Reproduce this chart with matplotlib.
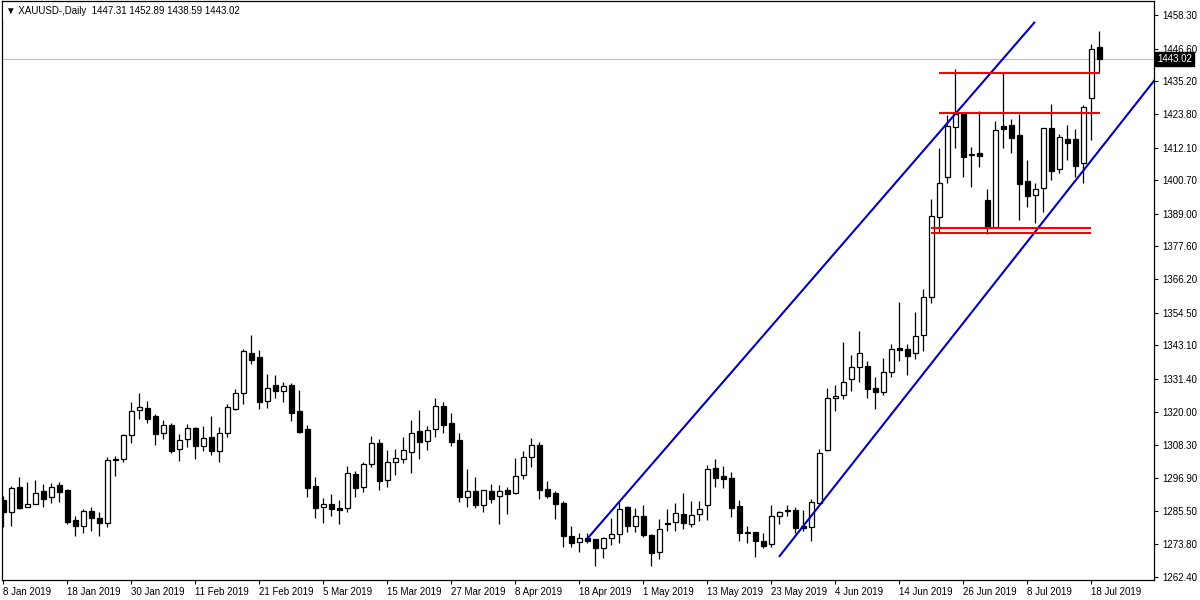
import matplotlib
matplotlib.use("Agg")
import matplotlib.pyplot as plt
import matplotlib.transforms as mtransforms
import numpy as np

plt.rcParams['font.family'] = ['Liberation Sans', 'DejaVu Sans']

# ---- data (daily XAUUSD candles, 8 Jan 2019 .. 19 Jul 2019) ----
opens = [1289.2, 1285.2, 1293.8, 1286.9, 1287.7, 1292.3, 1290.2, 1294.5, 1292.6, 1282.3,
         1280.1, 1285.3, 1283.0, 1281.1, 1303.5, 1303.4, 1311.8, 1320.5, 1321.2, 1318.4,
         1312.5, 1315.3, 1306.9, 1310.4, 1314.2, 1308.2, 1311.1, 1306.2, 1312.5, 1321.1,
         1326.4, 1340.4, 1339.0, 1323.9, 1329.2, 1327.3, 1329.3, 1320.3, 1313.9, 1294.1,
         1286.9, 1287.7, 1286.4, 1286.3, 1298.3, 1293.9, 1301.8, 1309.2, 1296.2, 1302.4,
         1303.6, 1305.9, 1313.2, 1309.7, 1313.9, 1321.9, 1316.0, 1310.0, 1290.4, 1292.3,
         1287.4, 1292.3, 1290.5, 1292.6, 1291.8, 1297.8, 1304.1, 1308.3, 1293.0, 1291.6,
         1288.1, 1276.8, 1274.5, 1276.0, 1275.6, 1272.4, 1276.1, 1277.3, 1286.7, 1280.2,
         1283.6, 1276.9, 1271.0, 1281.3, 1281.6, 1284.3, 1280.9, 1284.4, 1287.4, 1300.4,
         1297.6, 1296.8, 1287.0, 1278.1, 1278.1, 1274.9, 1273.8, 1283.6, 1285.4, 1285.7,
         1280.3, 1279.9, 1288.3, 1306.7, 1324.9, 1325.7, 1331.3, 1335.5, 1336.0, 1328.2,
         1327.0, 1334.0, 1342.3, 1341.8, 1340.4, 1346.6, 1360.1, 1388.0, 1401.7, 1419.2,
         1424.2, 1409.5, 1410.1, 1393.7, 1384.5, 1419.6, 1419.9, 1416.4, 1400.5, 1395.5,
         1397.9, 1418.8, 1404.5, 1415.1, 1415.1, 1406.6, 1429.3, 1447.31]
highs = [1290.6, 1294.1, 1297.2, 1295.5, 1296.2, 1294.8, 1295.1, 1295.5, 1293.0, 1283.7,
         1286.0, 1286.7, 1285.0, 1304.2, 1304.6, 1312.1, 1323.4, 1326.5, 1323.7, 1319.1,
         1317.1, 1316.0, 1312.1, 1315.6, 1314.8, 1315.0, 1318.5, 1314.6, 1322.7, 1327.8,
         1341.8, 1346.8, 1341.5, 1333.1, 1332.8, 1330.4, 1329.9, 1327.6, 1315.4, 1297.2,
         1289.9, 1291.3, 1289.2, 1301.1, 1299.4, 1302.6, 1311.5, 1310.4, 1306.7, 1307.0,
         1311.1, 1317.1, 1320.6, 1315.0, 1324.7, 1323.4, 1319.5, 1312.6, 1300.0, 1297.2,
         1292.7, 1294.8, 1294.5, 1293.7, 1303.9, 1306.4, 1310.9, 1309.5, 1295.7, 1292.3,
         1288.8, 1280.2, 1277.8, 1277.8, 1275.8, 1276.4, 1283.0, 1288.5, 1287.1, 1286.3,
         1287.4, 1277.3, 1282.7, 1286.0, 1288.1, 1291.8, 1288.8, 1289.0, 1301.4, 1303.4,
         1301.2, 1298.9, 1289.2, 1280.3, 1278.1, 1277.6, 1287.5, 1285.5, 1287.5, 1286.7,
         1285.7, 1289.7, 1307.1, 1328.2, 1329.3, 1344.3, 1339.7, 1348.3, 1337.8, 1332.2,
         1338.7, 1343.6, 1358.1, 1343.6, 1354.7, 1362.8, 1394.1, 1411.8, 1423.4, 1439.4,
         1424.6, 1412.2, 1424.9, 1397.8, 1421.4, 1438.0, 1421.9, 1423.8, 1407.7, 1399.8,
         1418.9, 1427.3, 1416.8, 1419.9, 1418.5, 1426.9, 1448.2, 1452.89]
lows = [1279.8, 1280.2, 1286.1, 1286.9, 1287.7, 1286.9, 1288.1, 1288.6, 1280.8, 1276.8,
        1277.7, 1278.5, 1276.8, 1279.9, 1297.7, 1302.6, 1309.2, 1317.6, 1316.2, 1308.5,
        1310.6, 1305.7, 1302.9, 1307.8, 1303.6, 1306.4, 1305.0, 1302.6, 1311.3, 1320.6,
        1322.7, 1336.6, 1321.1, 1321.4, 1324.9, 1323.5, 1316.9, 1312.7, 1290.4, 1282.9,
        1281.3, 1283.8, 1280.9, 1285.2, 1290.4, 1292.0, 1300.6, 1292.7, 1293.9, 1298.1,
        1302.2, 1298.8, 1303.4, 1306.7, 1311.1, 1312.7, 1308.2, 1288.6, 1286.9, 1286.6,
        1285.2, 1288.2, 1280.9, 1284.4, 1291.4, 1296.7, 1300.8, 1289.7, 1290.0, 1282.7,
        1273.0, 1273.0, 1271.2, 1274.1, 1266.3, 1268.9, 1273.4, 1274.4, 1278.2, 1278.2,
        1276.4, 1266.2, 1268.6, 1278.4, 1278.5, 1279.2, 1279.7, 1282.0, 1282.3, 1293.9,
        1293.3, 1283.4, 1274.9, 1274.4, 1269.5, 1272.6, 1273.0, 1280.9, 1283.7, 1277.6,
        1278.5, 1275.0, 1287.8, 1306.4, 1320.3, 1324.5, 1327.3, 1330.3, 1324.9, 1320.9,
        1325.9, 1332.2, 1337.8, 1332.9, 1338.5, 1341.3, 1357.8, 1382.4, 1399.8, 1411.8,
        1401.7, 1398.5, 1405.4, 1382.0, 1384.3, 1411.8, 1410.1, 1386.8, 1391.5, 1385.7,
        1389.7, 1400.8, 1403.1, 1407.7, 1401.9, 1399.8, 1414.7, 1438.59]
closes = [1285.1, 1293.3, 1286.6, 1287.8, 1291.6, 1289.5, 1293.7, 1292.1, 1281.7, 1280.3,
          1285.3, 1282.9, 1281.1, 1303.1, 1303.1, 1311.8, 1320.3, 1321.6, 1317.6, 1312.1,
          1315.3, 1306.4, 1310.0, 1314.2, 1308.2, 1310.7, 1306.4, 1312.5, 1321.6, 1326.4,
          1341.1, 1338.1, 1323.5, 1328.2, 1327.3, 1328.9, 1319.7, 1313.0, 1293.5, 1286.6,
          1287.7, 1286.2, 1285.6, 1298.5, 1293.5, 1301.8, 1309.2, 1296.0, 1302.5, 1303.8,
          1306.6, 1312.5, 1309.4, 1313.5, 1321.9, 1315.5, 1309.6, 1290.4, 1292.3, 1287.6,
          1292.6, 1289.7, 1292.3, 1291.4, 1297.5, 1304.1, 1308.3, 1292.6, 1290.7, 1287.9,
          1276.8, 1274.2, 1275.9, 1274.9, 1272.4, 1275.9, 1277.3, 1286.0, 1280.1, 1283.6,
          1276.9, 1270.7, 1279.0, 1280.9, 1284.6, 1281.1, 1283.9, 1286.0, 1299.9, 1297.0,
          1296.7, 1286.6, 1277.6, 1277.6, 1274.9, 1273.3, 1283.6, 1284.9, 1285.6, 1279.4,
          1279.4, 1288.4, 1305.5, 1324.7, 1325.4, 1330.3, 1335.5, 1340.6, 1327.8, 1326.8,
          1333.7, 1342.0, 1341.6, 1339.5, 1346.5, 1360.1, 1388.3, 1399.6, 1419.6, 1423.8,
          1408.9, 1409.8, 1409.3, 1384.5, 1418.2, 1418.5, 1415.3, 1399.3, 1395.2, 1397.5,
          1418.8, 1403.9, 1415.7, 1413.6, 1405.8, 1426.1, 1446.5, 1443.02]

date_labels = ['8 Jan 2019', '18 Jan 2019', '30 Jan 2019', '11 Feb 2019', '21 Feb 2019',
               '5 Mar 2019', '15 Mar 2019', '27 Mar 2019', '8 Apr 2019', '18 Apr 2019',
               '1 May 2019', '13 May 2019', '23 May 2019', '4 Jun 2019', '14 Jun 2019',
               '26 Jun 2019', '8 Jul 2019', '18 Jul 2019']
price_ticks = [1262.40, 1273.80, 1285.50, 1296.90, 1308.30, 1320.00, 1331.40, 1343.10,
               1354.50, 1366.20, 1377.60, 1389.00, 1400.70, 1412.10, 1423.80, 1435.20,
               1446.60, 1458.30]

# trend lines (bar index, price)
upper_x = [72.96, 128.96]
upper_y = [1275.6, 1455.9]
lower_x = [96.96, 146.0]
lower_y = [1269.4, 1443.0]
# horizontal levels
red_levels = [1438.2, 1424.2, 1384.2, 1382.4]
red_start = [117.0, 117.0, 116.0, 116.0]
red_end = [137.1, 137.1, 136.0, 136.0]

last_price = 1443.02
title = '\u25bc XAUUSD-,Daily  1447.31 1452.89 1438.59 1443.02'

# ---- figure ----
fig = plt.figure(figsize=(12, 6), dpi=100)
ax = fig.add_axes([2 / 1200, 20 / 600, 1152 / 1200, 579 / 600])
ax.set_xlim(-0.1625, 143.84)
ax.set_ylim(1261.34, 1463.18)

n = len(opens)
idx = np.arange(n)
o = np.array(opens); c = np.array(closes)
h = np.array(highs); l = np.array(lows)

ax.axhline(last_price, color='#C0C0C0', lw=0.8, zorder=1)

ax.vlines(idx, l, h, color='black', lw=0.9, zorder=2)
bottoms = np.minimum(o, c)
heights = np.maximum(np.abs(c - o), 0.15)
colors = ['white' if cc >= oo else 'black' for oo, cc in zip(o, c)]
ax.bar(idx, heights, bottom=bottoms, width=0.58, color=colors, edgecolor='black',
       linewidth=0.9, zorder=3)

ax.plot(upper_x, upper_y, color='#0000BE', lw=1.5, zorder=4, solid_capstyle='butt')
ax.plot(lower_x, lower_y, color='#0000BE', lw=1.5, zorder=4, solid_capstyle='butt')
for lev, s, e in zip(red_levels, red_start, red_end):
    ax.plot([s, e], [lev, lev], color='#FF0000', lw=1.5, zorder=4, solid_capstyle='butt')

# axes styling
for sp in ax.spines.values():
    sp.set_linewidth(0.9)
    sp.set_color('black')
ax.yaxis.tick_right()
ax.set_yticks(price_ticks)
ax.set_yticklabels(['%.2f' % p for p in price_ticks])
ax.tick_params(axis='y', direction='out', length=3, width=0.8, pad=3, labelsize=7)
xt = list(range(0, 8 * len(date_labels), 8))
ax.set_xticks(xt)
ax.set_xticklabels(date_labels)
ax.tick_params(axis='x', direction='out', length=3, width=0.8, pad=2, labelsize=7)
for lbl in ax.get_xticklabels():
    lbl.set_horizontalalignment('left')

trans = mtransforms.blended_transform_factory(ax.transAxes, ax.transData)
ax.text(1.0025, last_price, '%.2f' % last_price, transform=trans, color='white',
        fontsize=7, va='center', ha='left', zorder=6, clip_on=False,
        bbox=dict(boxstyle='square,pad=0.2', facecolor='black', edgecolor='black'))

fig.text(6 / 1200, 1 - 11 / 600, title, fontsize=7, va='center', ha='left',
         bbox=dict(boxstyle='square,pad=0.3', facecolor='white', edgecolor='none'))

fig.savefig('out.png', dpi=100, facecolor='white')
